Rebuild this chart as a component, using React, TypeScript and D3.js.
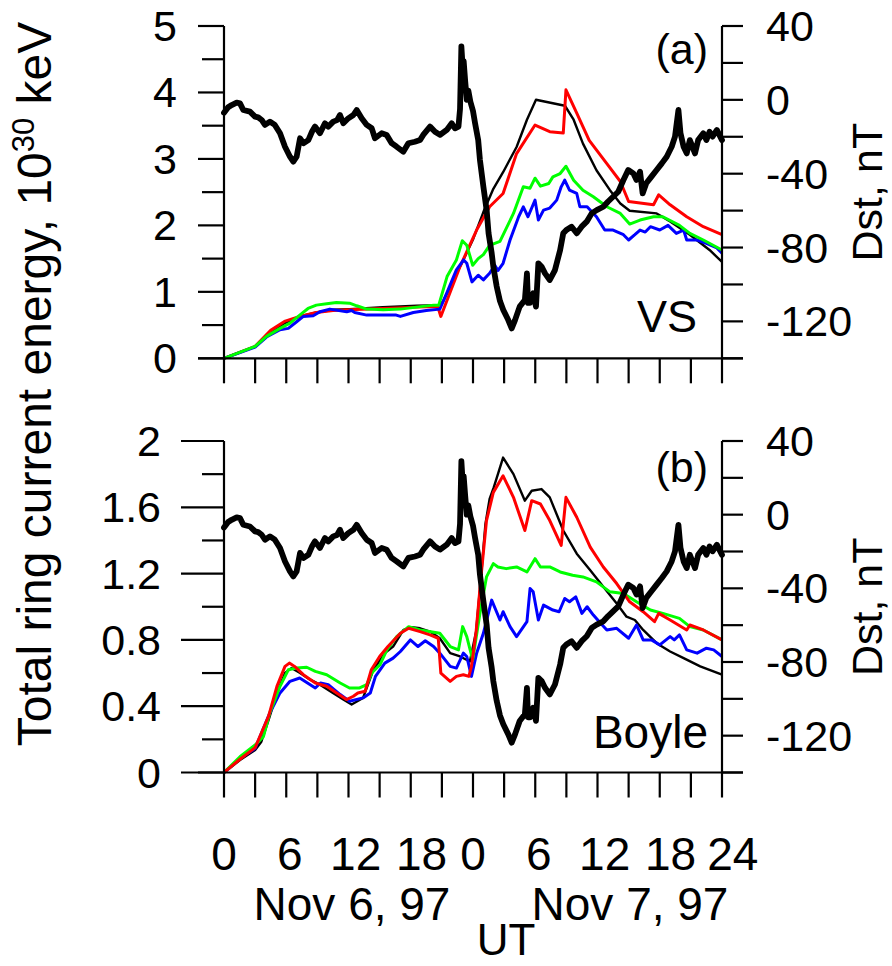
import React from "react";
import * as d3 from "d3";

// ---------- data (t in hours from Nov 6 00 UT) ----------
const dst: [number, number][] = [
  [0,-7],[0.4,-4],[0.74,-2.8],[1.22,-1.5],[1.54,-1.9],[1.86,-5.5],[2.5,-6.4],[2.99,-9.1],[3.3,-9.5],[3.63,-10.9],[3.95,-13.6],[4.43,-11.8],[4.9,-13.6],[5.4,-18.1],[5.88,-25.4],[6.36,-30.8],[6.68,-33.5],[7.0,-30.8],[7.33,-20.8],[7.65,-23.5],[8.13,-21.8],[8.5,-17],[8.77,-14.5],[9.25,-18.1],[9.73,-12.7],[10.05,-14.5],[10.53,-11.8],[10.9,-11],[11.18,-8.2],[11.5,-12.7],[11.98,-10],[12.47,-8.2],[12.79,-5.5],[13.27,-10],[13.76,-13.6],[14.24,-15.4],[14.55,-20.8],[15.2,-18.1],[15.68,-19],[16.16,-23.5],[16.64,-25.4],[17.28,-28.1],[17.77,-23.5],[18.4,-22.7],[18.9,-21.8],[19.2,-19],[19.86,-14.5],[20.34,-17.3],[20.82,-19],[21.47,-16.3],[21.95,-12.7],[22.27,-15.4],[22.6,-14.5],[22.75,-5],[22.88,29],[23.0,18],[23.1,21],[23.25,10],[23.4,0],[23.55,5],[23.75,-1],[24.0,-6],[24.2,-12.7],[24.5,-21.8],[24.67,-32.6],[25.0,-47],[25.32,-60],[25.5,-72.3],[25.8,-83],[25.96,-90.4],[26.28,-101],[26.6,-109],[26.92,-113.8],[27.4,-119.3],[27.73,-123.8],[28.05,-119.3],[28.5,-112],[29.0,-108.4],[29.2,-94],[29.3,-110],[29.5,-110],[29.8,-104.8],[30.07,-112],[30.3,-88.6],[30.62,-90.4],[30.94,-94],[31.4,-97.6],[31.9,-92.2],[32.4,-81.3],[32.7,-72.3],[33.0,-70.5],[33.5,-68.7],[34.0,-72.3],[34.47,-68.7],[34.96,-66],[35.44,-61.5],[35.92,-59.7],[36.56,-57.9],[37.0,-55.2],[37.5,-52.5],[38.0,-49.8],[38.5,-43.4],[38.96,-38],[39.45,-39.8],[39.76,-43.4],[40.1,-38.9],[40.35,-50.7],[40.7,-45.2],[41.2,-41.6],[41.7,-38],[42.2,-34.4],[42.67,-30.8],[43.15,-25.4],[43.47,-19.9],[43.8,-5.5],[44.0,-18.1],[44.3,-25.4],[44.6,-29],[44.9,-21.8],[45.4,-29],[45.7,-21.8],[46.2,-18.1],[46.5,-21.8],[46.8,-17.3],[47.1,-19.9],[47.5,-16.3],[48,-21.8]
];

const vsBlack: [number, number][] = [
  [0,0],[1.5,0.09],[3,0.175],[4.43,0.376],[5.88,0.53],[7.3,0.63],[8.9,0.69],[10.5,0.73],[12.1,0.74],[15.3,0.77],[18.6,0.79],[20.7,0.8],[21.1,0.85],[22.1,1.18],[23.07,1.48],[24.03,1.8],[25,2.2],[25.96,2.55],[26.9,2.8],[28.2,3.18],[29.2,3.59],[30.07,3.89],[32.86,3.8],[33.7,3.59],[34.6,3.23],[35.9,2.83],[37.2,2.53],[38.2,2.33],[39.1,2.22],[41.7,2.18],[43.0,2.06],[44.9,1.86],[46.8,1.63],[48,1.45]
];
const vsRed: [number, number][] = [
  [0,0],[1.5,0.09],[3,0.18],[4.5,0.42],[5.9,0.56],[7.3,0.63],[8.9,0.69],[10.5,0.72],[12.1,0.73],[15.3,0.75],[18.6,0.77],[20.6,0.78],[20.9,0.63],[22.75,1.38],[24.35,1.93],[25.6,2.28],[26.9,2.48],[28.2,3.08],[29.98,3.51],[31.4,3.41],[32.7,3.39],[32.96,4.04],[34,3.69],[35.2,3.28],[36.9,2.93],[38.2,2.66],[39,2.36],[41.4,2.31],[41.9,2.46],[43,2.31],[44.6,2.13],[46.2,1.98],[48,1.86]
];
const vsGreen: [number, number][] = [
  [0,0],[3,0.18],[4.1,0.33],[5.4,0.45],[6.36,0.53],[7.3,0.65],[8.1,0.75],[8.9,0.8],[9.9,0.82],[10.84,0.84],[12.1,0.83],[12.8,0.79],[13.76,0.74],[15.35,0.73],[17,0.74],[18.57,0.77],[20.2,0.8],[20.7,0.8],[21.5,1.23],[22.4,1.48],[22.97,1.77],[23.4,1.7],[23.97,1.4],[24.5,1.5],[25,1.56],[25.6,1.7],[26.6,1.76],[27.9,2.18],[28.85,2.58],[29.5,2.56],[29.98,2.71],[30.5,2.59],[31.3,2.63],[31.7,2.73],[32.4,2.78],[32.96,2.89],[33.7,2.68],[34.6,2.53],[35.6,2.43],[36.9,2.28],[38.2,2.18],[39.1,2.02],[40.1,2.08],[41.4,2.13],[42.3,2.13],[43.9,2.0],[44.9,1.88],[46.2,1.78],[48,1.63]
];
const vsBlue: [number, number][] = [
  [0,0],[3,0.17],[4.1,0.32],[5.4,0.43],[6.2,0.45],[7,0.55],[7.65,0.63],[8.6,0.64],[9.25,0.7],[10.2,0.74],[11.83,0.7],[12.3,0.72],[12.6,0.69],[13.76,0.65],[15.35,0.65],[16.6,0.65],[17,0.63],[18.25,0.69],[19.5,0.72],[20.8,0.74],[21.47,0.98],[22.4,1.33],[23.1,1.48],[23.4,1.43],[23.9,1.15],[24.5,1.25],[25,1.18],[25.6,1.28],[26.1,1.4],[26.4,1.32],[26.9,1.43],[27.57,1.78],[28.4,2.13],[28.85,2.28],[29.3,2.13],[29.98,2.38],[30.3,2.08],[30.8,2.23],[31.4,2.26],[32.07,2.38],[32.5,2.58],[32.84,2.68],[33.3,2.53],[34,2.48],[34.3,2.28],[35,2.28],[35.9,2.13],[36.7,1.93],[37.5,1.93],[38.5,1.86],[39,1.78],[39.6,1.86],[40.1,1.93],[40.6,1.9],[41.1,1.98],[42,1.93],[42.8,2.0],[43.6,1.88],[44.3,1.93],[44.6,1.78],[45.6,1.78],[46.5,1.73],[47.5,1.66],[48,1.58]
];

const boyleBlack: [number, number][] = [
  [0,0],[1.54,0.075],[3,0.136],[3.6,0.186],[4.3,0.317],[5.1,0.478],[5.88,0.6],[6.5,0.63],[7.33,0.6],[8.3,0.56],[9.25,0.53],[10.5,0.48],[11.5,0.44],[12.3,0.41],[13.4,0.45],[14.4,0.62],[15.5,0.72],[16.3,0.76],[17.3,0.86],[18.1,0.876],[18.9,0.87],[19.86,0.85],[20.8,0.81],[21.8,0.72],[22.75,0.7],[23.7,0.67],[24.3,0.85],[24.8,1.2],[25.2,1.5],[25.6,1.65],[26.0,1.72],[26.5,1.82],[26.9,1.9],[27.9,1.8],[29,1.64],[29.66,1.7],[30.6,1.71],[31.4,1.66],[32.7,1.46],[34,1.32],[35.3,1.22],[36.56,1.12],[37.85,1.02],[38.8,0.94],[39.6,0.92],[40.4,0.86],[41.7,0.78],[43,0.73],[44.3,0.69],[45.9,0.64],[48,0.59]
];
const boyleRed: [number, number][] = [
  [0,0],[1.54,0.08],[3,0.15],[4.3,0.34],[5.1,0.52],[5.88,0.64],[6.3,0.66],[6.8,0.64],[7.65,0.59],[8.8,0.54],[9.9,0.52],[10.86,0.48],[11.8,0.44],[12.47,0.46],[12.9,0.48],[13.6,0.49],[14.2,0.62],[15,0.7],[15.8,0.76],[17,0.84],[17.8,0.87],[18.9,0.85],[19.86,0.83],[20.65,0.81],[20.9,0.6],[21.8,0.55],[22.4,0.58],[23.07,0.59],[23.6,0.58],[23.85,0.64],[24.3,0.85],[24.8,1.2],[25.3,1.52],[25.96,1.69],[26.9,1.79],[27.9,1.66],[29,1.46],[29.66,1.64],[30.5,1.62],[31.4,1.52],[32.5,1.37],[32.96,1.66],[34,1.54],[35.3,1.36],[36.56,1.24],[37.85,1.14],[39.1,1.03],[40.4,0.97],[41.5,0.91],[41.9,0.96],[43,0.92],[44.6,0.86],[44.9,0.89],[46.2,0.86],[48,0.8]
];
const boyleGreen: [number, number][] = [
  [0,0],[1.54,0.095],[3,0.166],[3.8,0.216],[4.4,0.357],[5.4,0.52],[6.2,0.62],[7,0.63],[7.97,0.635],[8.8,0.61],[9.9,0.59],[11.2,0.54],[12.1,0.51],[13.07,0.51],[13.76,0.53],[14.24,0.6],[15.03,0.65],[15.7,0.74],[16.64,0.82],[17.8,0.88],[18.9,0.86],[20.8,0.84],[21.8,0.76],[22.6,0.74],[23,0.88],[23.4,0.82],[23.97,0.68],[24.67,0.96],[25.3,1.18],[25.96,1.26],[26.4,1.24],[27.2,1.23],[28.2,1.24],[29.2,1.21],[29.98,1.29],[30.5,1.24],[31.4,1.24],[32.4,1.21],[33.6,1.19],[34.6,1.18],[35.9,1.15],[37.2,1.09],[38.5,1.08],[39.76,1.03],[41.1,0.98],[42.3,0.96],[43.9,0.93],[44.9,0.88],[46.2,0.86],[48,0.8]
];
const boyleBlue: [number, number][] = [
  [0,0],[1.54,0.085],[3,0.145],[4.4,0.357],[5.4,0.48],[6.36,0.55],[7.3,0.57],[8.8,0.51],[9.3,0.54],[10.05,0.53],[11.2,0.47],[12.1,0.43],[13.4,0.45],[14.1,0.48],[14.6,0.58],[15.5,0.66],[16.3,0.69],[17,0.73],[17.96,0.8],[18.7,0.76],[19.4,0.795],[20.2,0.76],[20.8,0.72],[21.8,0.64],[22.4,0.63],[23.07,0.72],[23.4,0.7],[23.85,0.58],[24.35,0.72],[25,0.84],[25.8,1.04],[26.6,0.92],[26.9,0.97],[27.57,0.88],[28.2,0.82],[29.2,0.91],[29.5,1.11],[29.8,1.09],[30.3,0.92],[30.8,1.01],[31.7,0.98],[32.3,0.97],[32.84,1.05],[33.3,1.03],[33.9,1.06],[34.5,0.96],[35,1.0],[35.6,0.95],[36.3,0.9],[36.9,0.86],[37.85,0.87],[39,0.81],[39.76,0.89],[40.4,0.8],[41.2,0.8],[42,0.77],[43,0.82],[43.4,0.8],[43.9,0.83],[44.6,0.74],[45.6,0.72],[46.5,0.75],[47.2,0.74],[48,0.7]
];

const xTickHours = d3.range(0, 49, 3);
const xLabelHours = [0, 6, 12, 18, 24, 30, 36, 42, 48];
const xLabelText = ["0", "6", "12", "18", "0", "6", "12", "18", "24"];
const dstTicks = d3.range(-140, 41, 20);
const dstLabels = [40, 0, -40, -80, -120];
const aMajor = [0, 1, 2, 3, 4, 5];
const aMinor = [0.5, 1.5, 2.5, 3.5, 4.5];
const bMajor = [0, 0.4, 0.8, 1.2, 1.6, 2];
const bMinor = [0.2, 0.6, 1.0, 1.4, 1.8];
const bLabels = ["0", "0.4", "0.8", "1.2", "1.6", "2"];

const FONT = "'Liberation Sans', Arial, sans-serif";
const FS = 43;
const XFS = 46;

const x = d3.scaleLinear().domain([0, 48]).range([224, 722]);

type PanelProps = {
  top: number; bottom: number; yMax: number; major: number[]; minor: number[];
  labels: string[]; labelRight: number; majorStart: number;
  series: { data: [number, number][]; color: string; w: number }[];
  tag: string; name: string; tagBase: number; nameBase: number; nameRight: number; nameFs: number;
};

function Panel(p: PanelProps) {
  const y = d3.scaleLinear().domain([0, p.yMax]).range([p.bottom, p.top]);
  const yd = d3.scaleLinear().domain([-140, 40]).range([p.bottom, p.top]);
  const line = d3.line<[number, number]>().x(d => x(d[0])).y(d => y(d[1]));
  const dline = d3.line<[number, number]>().x(d => x(d[0])).y(d => yd(d[1]));
  const ax = { stroke: "#000", strokeWidth: 2.2, fill: "none" } as const;
  return (
    <g>
      {p.series.map((s, i) => (
        <path key={i} d={line(s.data) || ""} stroke={s.color} strokeWidth={s.w} fill="none" strokeLinejoin="round" />
      ))}
      <path d={dline(dst) || ""} stroke="#000" strokeWidth={5.8} fill="none" strokeLinejoin="round" strokeLinecap="round" />
      {/* left axis */}
      <line x1={224} x2={224} y1={p.top} y2={p.bottom} style={ax} />
      {p.major.map(v => <line key={"M" + v} x1={p.majorStart} x2={224} y1={y(v)} y2={y(v)} style={ax} />)}
      {p.minor.map(v => <line key={"m" + v} x1={202} x2={224} y1={y(v)} y2={y(v)} style={ax} />)}
      {p.major.map((v, i) => (
        <text key={"L" + v} x={p.labelRight} y={y(v) + 15} textAnchor="end" fontSize={FS} fontFamily={FONT}>{p.labels[i]}</text>
      ))}
      {/* right axis */}
      <line x1={722} x2={722} y1={p.top} y2={p.bottom} style={ax} />
      {dstTicks.map(v => <line key={"R" + v} x1={722} x2={743} y1={yd(v)} y2={yd(v)} style={ax} />)}
      {dstLabels.map(v => (
        <text key={"RL" + v} x={766} y={yd(v) + 15} fontSize={FS} fontFamily={FONT}>{v}</text>
      ))}
      <text transform={`translate(882,${(p.top + p.bottom) / 2}) rotate(-90)`} textAnchor="middle" fontSize={FS} fontFamily={FONT}>Dst, nT</text>
      {/* bottom axis */}
      <line x1={198} x2={743} y1={p.bottom} y2={p.bottom} style={ax} />
      {xTickHours.map(h => <line key={"X" + h} x1={x(h)} x2={x(h)} y1={p.bottom} y2={p.bottom + 25} style={ax} />)}
      <text x={708} y={p.tagBase} textAnchor="end" fontSize={FS} fontFamily={FONT}>{p.tag}</text>
      <text x={p.nameRight} y={p.nameBase} textAnchor="end" fontSize={p.nameFs} fontFamily={FONT}>{p.name}</text>
    </g>
  );
}

export default function App() {
  // small drift of the tick-label row, as in the reference
  const labelShift = (i: number) => {
    const h = xLabelHours[i];
    const hod = i === 0 || i === 4 ? 0 : (h % 24 === 0 ? 18 : h % 24);
    return Math.min(hod, 18) * 0.6;
  };
  return (
    <div style={{ position: "absolute", left: 0, top: 0 }}>
      <svg width={892} height={966} style={{ display: "block", background: "#fff" }}>
        <Panel top={26} bottom={358.3} yMax={5} major={aMajor} minor={aMinor}
          labels={aMajor.map(String)} labelRight={177} majorStart={198}
          series={[
            { data: vsBlack, color: "#000", w: 2.4 },
            { data: vsRed, color: "#ff0000", w: 3 },
            { data: vsBlue, color: "#0000ff", w: 3 },
            { data: vsGreen, color: "#00ff00", w: 3 },
          ]}
          tag="(a)" name="VS" tagBase={64} nameBase={332} nameRight={697} nameFs={45} />
        <Panel top={441} bottom={772.5} yMax={2} major={bMajor} minor={bMinor}
          labels={bLabels} labelRight={161} majorStart={181}
          series={[
            { data: boyleBlack, color: "#000", w: 2.4 },
            { data: boyleBlue, color: "#0000ff", w: 3 },
            { data: boyleGreen, color: "#00ff00", w: 3 },
            { data: boyleRed, color: "#ff0000", w: 3 },
          ]}
          tag="(b)" name="Boyle" tagBase={482} nameBase={748} nameRight={708} nameFs={46} />
        {xLabelHours.map((h, i) => (
          <text key={"xl" + i} x={x(h) + labelShift(i)} y={870} textAnchor="middle" fontSize={XFS} fontFamily={FONT}>{xLabelText[i]}</text>
        ))}
        <text x={352} y={920} textAnchor="middle" fontSize={XFS} fontFamily={FONT}>Nov 6, 97</text>
        <text x={630} y={920} textAnchor="middle" fontSize={XFS} fontFamily={FONT}>Nov 7, 97</text>
        <text x={506} y={955} textAnchor="middle" fontSize={XFS - 2} fontFamily={FONT}>UT</text>
        <text transform="translate(51,384) rotate(-90)" textAnchor="middle" fontSize={48} fontFamily={FONT}>
          Total ring current energy, 10<tspan fontSize={31} dy={-17}>30</tspan><tspan dy={17}> keV</tspan>
        </text>
      </svg>
    </div>
  );
}
